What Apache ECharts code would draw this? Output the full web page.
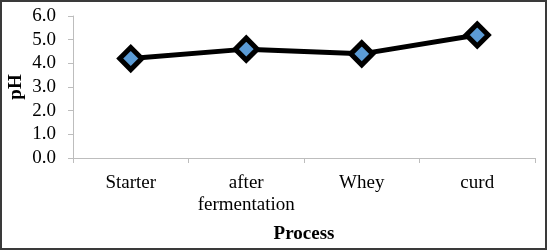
<!DOCTYPE html>
<html>
<head>
<meta charset="utf-8">
<script src="https://cdn.jsdelivr.net/npm/echarts@6/dist/echarts.min.js"></script>
<style>
  html, body { margin: 0; padding: 0; background: #fff; }
  #chart {
    width: 547px;
    height: 250px;
    box-sizing: border-box;
    border: 2px solid #3a3a3a;
  }
</style>
</head>
<body>
<div id="chart"></div>
<script>
const categories = ['Starter', 'after\nfermentation', 'Whey', 'curd']
const phValues = [4.2, 4.6, 4.4, 5.2]
const yTicks = [0, 1, 2, 3, 4, 5, 6]

const chart = echarts.init(document.getElementById('chart'))

const font = "'Liberation Serif', 'Times New Roman', serif"

chart.setOption({
  animation: false,
  grid: {
    left: 71,
    right: 10,
    top: 14,
    bottom: 90,
    outerBoundsMode: 'none'
  },
  xAxis: {
    type: 'category',
    data: categories,
    name: 'Process',
    nameLocation: 'middle',
    nameGap: 67,
    nameTextStyle: { fontFamily: font, fontSize: 19, fontWeight: 'bold', color: '#000' },
    axisLine: { lineStyle: { color: '#bdbdbd', width: 1 } },
    axisTick: { show: true, length: 5, lineStyle: { color: '#bdbdbd' } },
    axisLabel: { interval: 0, fontFamily: font, fontSize: 19, color: '#000', margin: 14, lineHeight: 22 }
  },
  yAxis: {
    type: 'value',
    min: yTicks[0],
    max: yTicks[yTicks.length - 1],
    interval: 1,
    name: 'pH',
    nameLocation: 'middle',
    nameGap: 47,
    nameRotate: 90,
    nameMoveOverlap: false,
    nameTextStyle: { fontFamily: font, fontSize: 19, fontWeight: 'bold', color: '#000' },
    splitLine: { show: false },
    axisLine: { show: true, lineStyle: { color: '#bdbdbd', width: 1 } },
    axisTick: { show: true, length: 5, lineStyle: { color: '#bdbdbd' } },
    axisLabel: {
      fontFamily: font, fontSize: 19, color: '#000', margin: 17,
      formatter: v => v.toFixed(1)
    }
  },
  series: [{
    type: 'line',
    data: phValues,
    symbol: 'diamond',
    symbolSize: 22,
    lineStyle: { color: '#000', width: 5 },
    itemStyle: { color: '#5b9bd5', borderColor: '#000', borderWidth: 5 }
  }]
})
</script>
</body>
</html>
